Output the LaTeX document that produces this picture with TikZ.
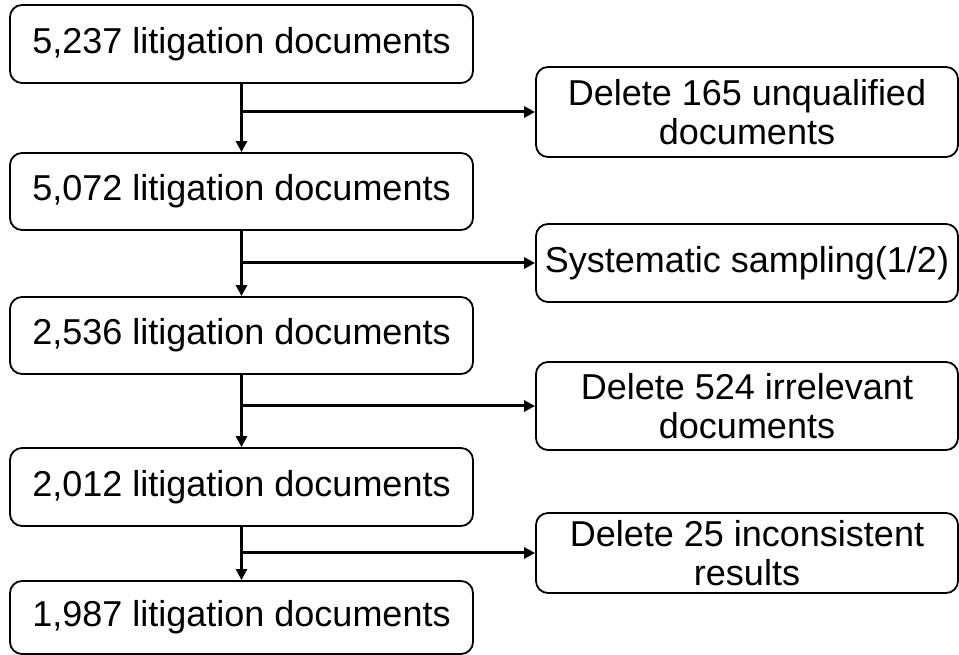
\documentclass[tikz,border=0pt]{standalone}
\usepackage{fontspec}
\setmainfont{Liberation Sans}
\usetikzlibrary{arrows.meta}
\tikzset{
  mainbox/.style={draw, line width=1.8pt, rounded corners=12pt, inner sep=0pt,
    minimum width=463pt, font=\fontsize{36}{40}\selectfont},
  sidebox/.style={draw, line width=1.8pt, rounded corners=12pt, inner sep=0pt,
    minimum width=422pt, align=center, font=\fontsize{36}{39}\selectfont},
  flow/.style={line width=3pt, -{Triangle[length=11pt,width=11pt]}}
}
\begin{document}
\begin{tikzpicture}[x=1pt,y=1pt]
\useasboundingbox (0,0) rectangle (959,655);
% main boxes (y = 655 - image y)
\node[mainbox, minimum height=78pt] (b1) at (241.5,611) {5,237 litigation documents};
\node[mainbox, minimum height=77pt] (b2) at (241.5,463.5) {5,072 litigation documents};
\node[mainbox, minimum height=77pt] (b3) at (241.5,319.5) {2,536 litigation documents};
\node[mainbox, minimum height=78pt] (b4) at (241.5,168) {2,012 litigation documents};
\node[mainbox, minimum height=73pt] (b5) at (241.5,37.5) {1,987 litigation documents};
% side boxes
\node[sidebox, minimum height=90pt] (s1) at (747,543) {Delete 165 unqualified\\documents};
\node[sidebox, minimum height=78pt] (s2) at (747,392) {Systematic sampling(1/2)};
\node[sidebox, minimum height=88pt] (s3) at (747,249) {Delete 524 irrelevant\\documents};
\node[sidebox, minimum height=80pt] (s4) at (747,102) {Delete 25 inconsistent\\results};
% vertical flow
\draw[flow] (b1.south) -- (b2.north);
\draw[flow] (b2.south) -- (b3.north);
\draw[flow] (b3.south) -- (b4.north);
\draw[flow] (b4.south) -- (b5.north);
% branches
\coordinate (j1) at (b1.south |- s1.west);
\coordinate (j2) at (b2.south |- s2.west);
\coordinate (j3) at (b3.south |- s3.west);
\coordinate (j4) at (b4.south |- s4.west);
\draw[flow] (j1) -- (s1.west);
\draw[flow] (j2) -- (s2.west);
\draw[flow] (j3) -- (s3.west);
\draw[flow] (j4) -- (s4.west);
\end{tikzpicture}
\end{document}
